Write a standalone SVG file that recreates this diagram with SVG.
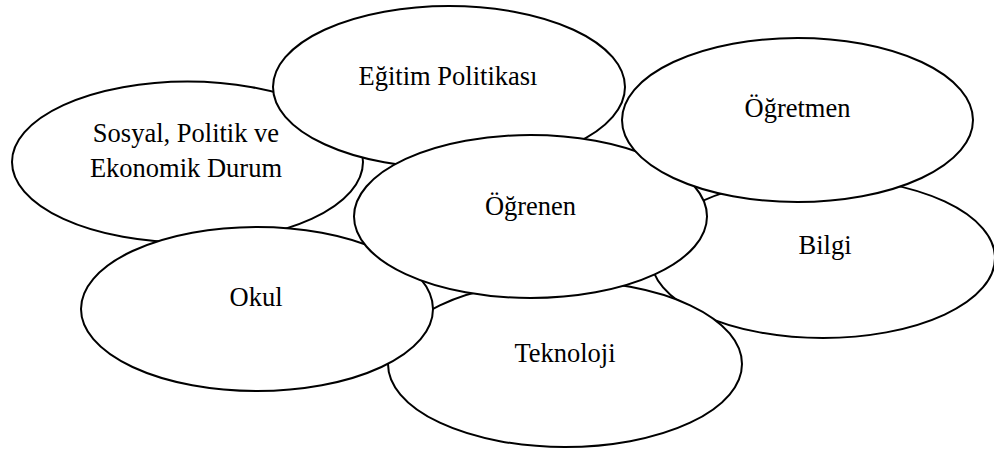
<svg xmlns="http://www.w3.org/2000/svg" width="994" height="450" viewBox="0 0 994 450">
<style>
.n{fill:#fff;stroke:#000;stroke-width:2}
.t{font-family:"Liberation Serif","Times New Roman",serif;font-size:26.5px;fill:#000;text-anchor:middle}
</style>
<rect width="994" height="450" fill="#fff"/>
<g id="sosyal"><ellipse class="n" cx="187.5" cy="162" rx="175.5" ry="80.5"/><text class="t" x="186" y="142">Sosyal, Politik ve</text><text class="t" x="186" y="177">Ekonomik Durum</text></g>
<g id="egitim"><ellipse class="n" cx="449" cy="87" rx="176" ry="81"/><text class="t" x="448" y="85">Eğitim Politikası</text></g>
<g id="bilgi"><ellipse class="n" cx="823" cy="258" rx="172" ry="80"/><text class="t" x="825" y="254">Bilgi</text></g>
<g id="teknoloji"><ellipse class="n" cx="565" cy="364" rx="177" ry="83"/><text class="t" x="565" y="362">Teknoloji</text></g>
<g id="okul"><ellipse class="n" cx="257" cy="309" rx="176" ry="82"/><text class="t" x="256" y="306">Okul</text></g>
<g id="ogrenen"><ellipse class="n" cx="530.5" cy="216.5" rx="176.5" ry="81.5"/><text class="t" x="530.5" y="215">Öğrenen</text></g>
<g id="ogretmen"><ellipse class="n" cx="797.5" cy="120" rx="175.5" ry="82"/><text class="t" x="797.5" y="117">Öğretmen</text></g>
<g id="connectors"></g>
</svg>
